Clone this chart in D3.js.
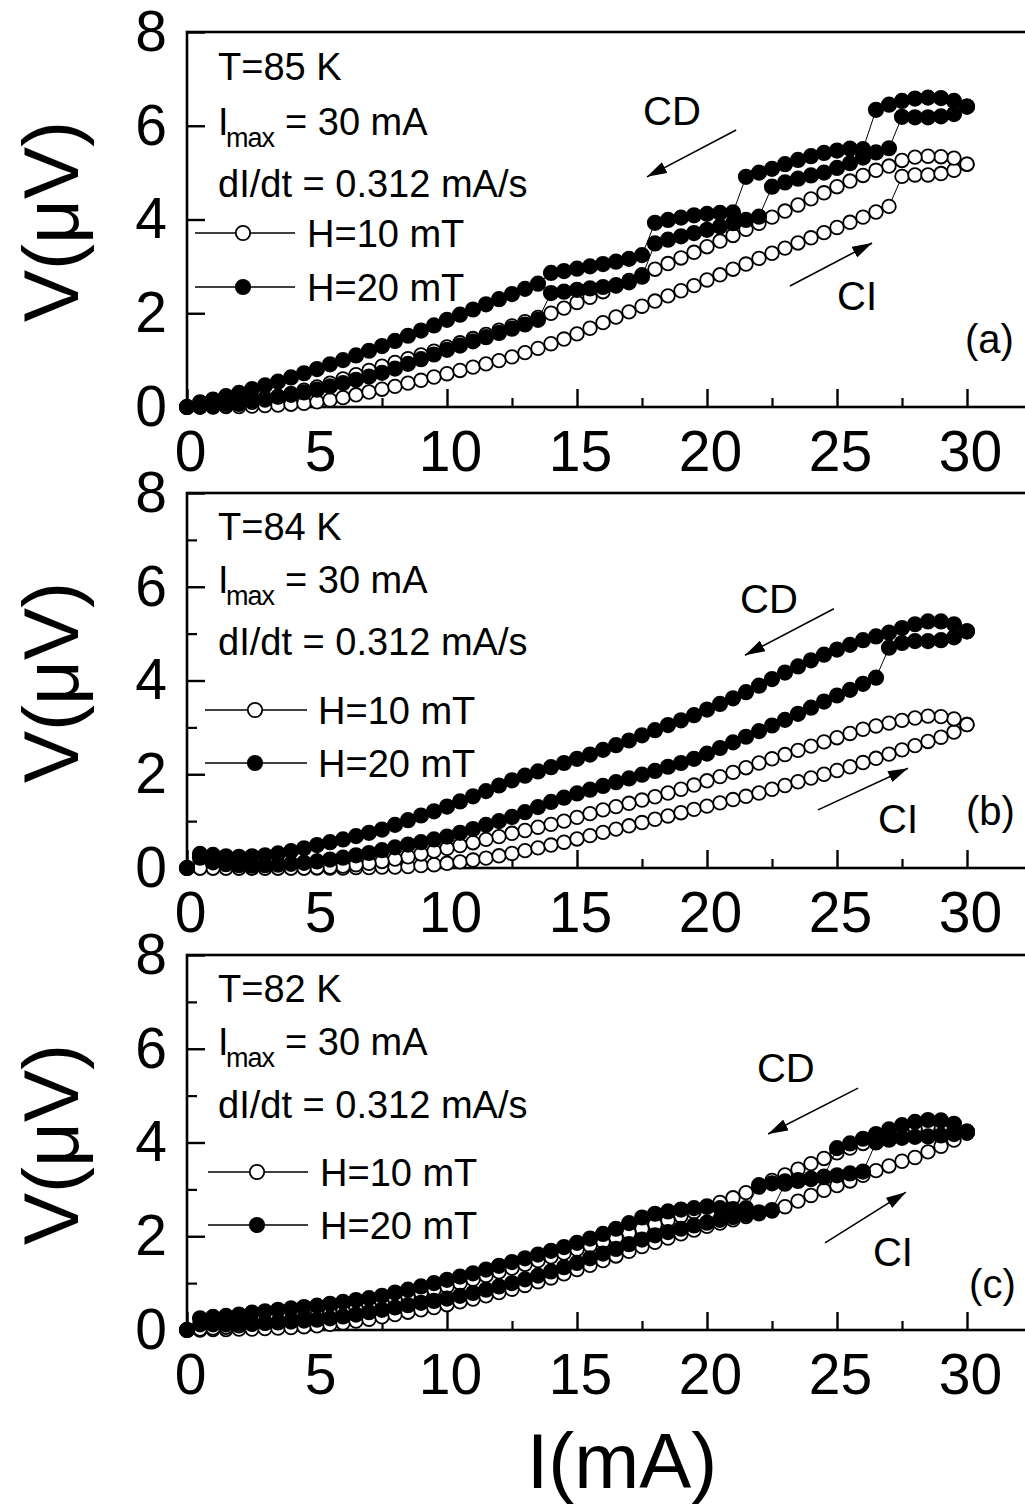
<!DOCTYPE html>
<html lang="en">
<head>
<meta charset="UTF-8">
<title>V-I hysteresis loops</title>
<script src="https://d3js.org/d3.v7.min.js"></script>
<style>
  body { margin: 0; background: #fff; }
  svg text { font-family: "Liberation Sans", Arial, sans-serif; fill: #000; }
</style>
</head>
<body>
<script>
// current sweep (mA), shared by every branch
const current = [0,0.5,1,1.5,2,2.5,3,3.5,4,4.5,5,5.5,6,6.5,7,7.5,8,8.5,9,9.5,
  10,10.5,11,11.5,12,12.5,13,13.5,14,14.5,15,15.5,16,16.5,17,17.5,18,18.5,19,19.5,
  20,20.5,21,21.5,22,22.5,23,23.5,24,24.5,25,25.5,26,26.5,27,27.5,28,28.5,29,29.5,30];

// voltages (uV); "Up" = current increasing (CI), "Down" = current decreasing (CD)
// T = 85 K
const a10Up = [0,0,0,0.01,0.01,0.02,0.03,0.04,0.06,0.08,
  0.11,0.15,0.2,0.26,0.32,0.38,0.44,0.51,0.57,0.64,
  0.71,0.78,0.85,0.92,0.99,1.07,1.16,1.25,1.35,1.45,
  1.56,1.68,1.8,1.92,2.03,2.15,2.26,2.37,2.48,2.59,
  2.71,2.82,2.94,3.05,3.17,3.28,3.39,3.5,3.61,3.72,
  3.83,3.94,4.05,4.16,4.28,4.92,4.95,4.95,4.98,5.05,5.18];
const a10Down = [0,0,0.01,0.03,0.06,0.1,0.15,0.22,0.29,0.36,
  0.43,0.51,0.6,0.69,0.78,0.87,0.95,1.03,1.11,1.19,
  1.28,1.37,1.46,1.55,1.64,1.73,1.82,1.91,2.0,2.11,
  2.23,2.34,2.46,2.58,2.7,2.82,2.94,3.06,3.18,3.3,
  3.42,3.54,3.66,3.79,3.92,4.05,4.18,4.31,4.44,4.57,
  4.7,4.82,4.94,5.05,5.14,5.26,5.33,5.35,5.34,5.31,5.18];
const a20Up = [0,0.02,0.04,0.07,0.1,0.14,0.18,0.22,0.26,0.31,
  0.37,0.44,0.51,0.58,0.65,0.73,0.82,0.92,1.02,1.12,
  1.22,1.31,1.4,1.49,1.58,1.67,1.76,1.86,2.43,2.46,
  2.5,2.53,2.56,2.6,2.66,2.78,3.49,3.57,3.64,3.71,
  3.78,3.85,3.92,3.99,4.06,4.7,4.79,4.87,4.94,5.0,
  5.1,5.2,5.32,5.43,5.52,6.19,6.18,6.18,6.2,6.25,6.41];
const a20Down = [0,0.1,0.16,0.23,0.3,0.38,0.46,0.54,0.63,0.72,
  0.81,0.91,1.0,1.1,1.2,1.3,1.41,1.52,1.63,1.74,
  1.86,1.97,2.08,2.19,2.3,2.41,2.52,2.63,2.86,2.9,
  2.95,3.0,3.05,3.1,3.16,3.24,3.93,3.99,4.04,4.09,
  4.12,4.14,4.15,4.91,5.0,5.08,5.18,5.27,5.35,5.42,
  5.47,5.51,5.5,6.34,6.45,6.53,6.58,6.6,6.59,6.53,6.41];

// T = 84 K
const b10Up = [0,0,0,0,0,0,0,0,0,0,
  0,0,0,0.01,0.01,0.02,0.02,0.03,0.05,0.07,
  0.1,0.13,0.17,0.21,0.26,0.31,0.37,0.43,0.49,0.55,
  0.62,0.69,0.76,0.83,0.9,0.97,1.04,1.11,1.18,1.25,
  1.32,1.39,1.46,1.53,1.6,1.68,1.76,1.84,1.92,2.0,
  2.08,2.16,2.25,2.34,2.43,2.52,2.61,2.7,2.79,2.9,3.06];
const b10Down = [0,0,0,0,0,0,0,0,0,0,
  0.01,0.02,0.04,0.07,0.1,0.14,0.19,0.24,0.3,0.36,
  0.42,0.48,0.54,0.61,0.67,0.74,0.8,0.87,0.93,1.0,
  1.08,1.16,1.24,1.31,1.38,1.45,1.52,1.6,1.68,1.77,
  1.86,1.95,2.04,2.14,2.24,2.33,2.42,2.51,2.6,2.69,
  2.78,2.87,2.96,3.03,3.09,3.15,3.2,3.24,3.23,3.18,3.06];
const b20Up = [0,0.22,0.12,0.08,0.06,0.05,0.06,0.07,0.09,0.11,
  0.14,0.18,0.22,0.27,0.32,0.38,0.44,0.5,0.55,0.61,
  0.67,0.75,0.83,0.92,1.0,1.09,1.19,1.3,1.41,1.5,
  1.59,1.67,1.75,1.83,1.91,1.99,2.07,2.16,2.24,2.33,
  2.44,2.56,2.68,2.8,2.92,3.04,3.16,3.29,3.42,3.55,
  3.68,3.8,3.93,4.06,4.7,4.8,4.84,4.84,4.86,4.92,5.05];
const b20Down = [0,0.3,0.28,0.25,0.24,0.25,0.27,0.31,0.36,0.42,
  0.49,0.55,0.61,0.68,0.75,0.82,0.92,1.02,1.12,1.21,
  1.31,1.42,1.53,1.64,1.76,1.87,1.97,2.06,2.15,2.24,
  2.33,2.42,2.52,2.62,2.72,2.83,2.94,3.05,3.15,3.26,
  3.38,3.5,3.62,3.75,3.89,4.03,4.17,4.3,4.43,4.55,
  4.66,4.76,4.86,4.94,5.02,5.12,5.2,5.26,5.26,5.2,5.05];

// T = 82 K
const c10Up = [0,0,0.01,0.01,0.02,0.02,0.03,0.04,0.05,0.07,
  0.09,0.12,0.15,0.19,0.23,0.28,0.33,0.38,0.43,0.48,
  0.54,0.6,0.66,0.73,0.8,0.87,0.95,1.03,1.11,1.2,
  1.29,1.38,1.48,1.58,1.68,1.78,1.87,1.96,2.05,2.13,
  2.21,2.28,2.35,2.42,2.48,2.54,2.63,2.75,2.87,2.98,
  3.08,3.18,3.3,3.4,3.5,3.6,3.68,3.8,3.92,4.05,4.2];
const c10Down = [0,0.02,0.04,0.06,0.09,0.12,0.15,0.18,0.22,0.26,
  0.3,0.35,0.4,0.46,0.52,0.58,0.65,0.72,0.79,0.86,
  0.93,1.0,1.08,1.16,1.24,1.32,1.4,1.48,1.56,1.64,
  1.72,1.8,1.88,1.97,2.07,2.16,2.25,2.34,2.43,2.52,
  2.62,2.72,2.82,2.93,3.05,3.19,3.31,3.43,3.55,3.66,
  3.78,3.88,3.98,4.07,4.16,4.24,4.3,4.33,4.33,4.3,4.2];
const c20Up = [0,0.12,0.12,0.12,0.13,0.14,0.15,0.16,0.18,0.2,
  0.22,0.25,0.29,0.33,0.38,0.43,0.48,0.53,0.58,0.62,
  0.67,0.73,0.79,0.86,0.93,1.0,1.08,1.16,1.25,1.34,
  1.43,1.53,1.63,1.73,1.83,1.93,2.02,2.09,2.16,2.23,
  2.29,2.35,2.41,2.46,2.51,2.56,3.12,3.18,3.22,3.26,
  3.3,3.34,3.38,4.0,4.06,4.1,4.12,4.13,4.15,4.18,4.23];
const c20Down = [0,0.25,0.28,0.3,0.33,0.37,0.4,0.43,0.46,0.49,
  0.52,0.56,0.6,0.64,0.68,0.73,0.8,0.86,0.93,1.0,
  1.07,1.14,1.21,1.29,1.37,1.45,1.53,1.61,1.69,1.77,
  1.86,1.95,2.05,2.16,2.28,2.4,2.48,2.53,2.57,2.6,
  2.64,2.6,2.58,2.6,3.09,3.13,3.17,3.2,3.23,3.27,
  3.88,3.98,4.08,4.18,4.28,4.37,4.44,4.48,4.47,4.4,4.23];

const temperatures = ["T=85 K", "T=84 K", "T=82 K"];
const panelTags = ["(a)", "(b)", "(c)"];
const fieldLabels = ["H=10 mT", "H=20 mT"];
const xMajor = [0, 5, 10, 15, 20, 25, 30];
const xMinor = [2.5, 7.5, 12.5, 17.5, 22.5, 27.5];
const yMajor = [0, 2, 4, 6, 8];
const yMinor = [1, 3, 5, 7];

const width = 1025, height = 1510;
const left = 187, right = 967, frameRight = 1060, plotH = 375;
const panelTops = [32, 493, 955];
const font = "'Liberation Sans', Arial, sans-serif";

const svg = d3.select("body").append("svg")
    .attr("width", width)
    .attr("height", height);

svg.append("defs").append("marker")
    .attr("id", "head")
    .attr("viewBox", "0 0 20 12")
    .attr("refX", 20).attr("refY", 6)
    .attr("markerWidth", 20).attr("markerHeight", 12)
    .attr("markerUnits", "userSpaceOnUse")
    .attr("orient", "auto")
  .append("path")
    .attr("d", "M0,0 L20,6 L0,12 Z")
    .attr("fill", "#000");

const x = d3.scaleLinear().domain([0, 30]).range([left, right]);

const panels = [
  { up10: a10Up, down10: a10Down, up20: a20Up, down20: a20Down },
  { up10: b10Up, down10: b10Down, up20: b20Up, down20: b20Down },
  { up10: c10Up, down10: c10Down, up20: c20Up, down20: c20Down }
];

// annotation anchors in data units (mA, uV)
const cdText = [[17.54, 6.02], [21.27, 5.44], [21.92, 5.29]];
const cdArrow = [[[21.12, 5.91], [17.69, 4.91]], [[24.88, 5.53], [21.46, 4.54]], [[25.81, 5.16], [22.35, 4.18]]];
const ciText = [[25.0, 2.07], [26.58, 0.75], [26.38, 1.37]];
const ciArrow = [[[23.19, 2.58], [26.35, 3.5]], [[24.27, 1.24], [27.73, 2.13]], [[24.54, 1.86], [27.65, 2.94]]];
const tagPos = [[29.92, 1.15], [29.96, 0.92], [30.08, 0.68]];

// legend layout, offsets from the panel top
const legendLine = [[195, 295, 243, 307], [205, 307, 255, 318], [208, 308, 257, 320]];
const legendRows = [[48, 103, 165, 201, 255], [47, 100, 162, 217, 270], [47, 100, 163, 217, 270]];

function branchPoints(up, down) {
  const rise = up.map((v, i) => [current[i], v]);
  const fall = down.map((v, i) => [current[i], v]).reverse();
  return rise.concat(fall);
}

function drawSeries(g, y, pts, filled) {
  g.append("path")
    .datum(pts)
    .attr("d", d3.line().x(d => x(d[0])).y(d => y(d[1])))
    .attr("fill", "none")
    .attr("stroke", "#000")
    .attr("stroke-width", 1);
  g.append("g").selectAll("circle")
    .data(pts)
    .join("circle")
    .attr("cx", d => x(d[0]))
    .attr("cy", d => y(d[1]))
    .attr("r", filled ? 7.2 : 6.8)
    .attr("fill", filled ? "#000" : "#fff")
    .attr("stroke", "#000")
    .attr("stroke-width", 1.8);
}

panels.forEach((p, i) => {
  const top = panelTops[i];
  const bottom = top + plotH;
  const y = d3.scaleLinear().domain([0, 8]).range([bottom, top]);
  const g = svg.append("g");

  // frame (right side runs past the page edge)
  g.append("rect")
    .attr("x", left).attr("y", top)
    .attr("width", frameRight - left).attr("height", plotH)
    .attr("fill", "none")
    .attr("stroke", "#000")
    .attr("stroke-width", 2.6);

  const xAxis = g.append("g")
    .attr("transform", `translate(0,${bottom})`)
    .call(d3.axisBottom(x).tickValues(xMajor).tickSizeInner(-18).tickSizeOuter(0).tickPadding(24).tickFormat(d3.format("d")));
  xAxis.select(".domain").remove();
  xAxis.selectAll("line").attr("stroke-width", 2.4);
  xAxis.selectAll("text").attr("font-size", 57).attr("font-family", font).attr("dx", 3);

  const xMinorAxis = g.append("g")
    .attr("transform", `translate(0,${bottom})`)
    .call(d3.axisBottom(x).tickValues(xMinor).tickSizeInner(-9).tickSizeOuter(0).tickFormat(""));
  xMinorAxis.select(".domain").remove();
  xMinorAxis.selectAll("line").attr("stroke-width", 2.2);

  const yAxis = g.append("g")
    .attr("transform", `translate(${left},0)`)
    .call(d3.axisLeft(y).tickValues(yMajor).tickSizeInner(-18).tickSizeOuter(0).tickPadding(20).tickFormat(d3.format("d")));
  yAxis.select(".domain").remove();
  yAxis.selectAll("line").attr("stroke-width", 2.4);
  yAxis.selectAll("text").attr("font-size", 57).attr("font-family", font);

  if (i > 0) {
    const yMinorAxis = g.append("g")
      .attr("transform", `translate(${left},0)`)
      .call(d3.axisLeft(y).tickValues(yMinor).tickSizeInner(-10).tickSizeOuter(0).tickFormat(""));
    yMinorAxis.select(".domain").remove();
    yMinorAxis.selectAll("line").attr("stroke-width", 2.2);
  }

  // y title
  g.append("text")
    .attr("transform", `translate(78,${(top + bottom) / 2 + 2}) rotate(-90)`)
    .attr("text-anchor", "middle")
    .attr("font-size", 78)
    .text("V(μV)");

  // data: open circles underneath, filled on top
  drawSeries(g, y, branchPoints(p.up10, p.down10), false);
  drawSeries(g, y, branchPoints(p.up20, p.down20), true);

  // legend block
  const rows = legendRows[i];
  const lx = 218;
  g.append("text").attr("x", lx).attr("y", top + rows[0]).attr("font-size", 38).text(temperatures[i]);
  const imax = g.append("text").attr("x", lx).attr("y", top + rows[1]).attr("font-size", 38);
  imax.append("tspan").text("I");
  imax.append("tspan").attr("x", lx + 8).attr("dy", 12).attr("font-size", 27).attr("letter-spacing", -1).text("max");
  imax.append("tspan").attr("x", lx + 67).attr("dy", -12).text("= 30 mA");
  g.append("text").attr("x", lx).attr("y", top + rows[2]).attr("font-size", 38).text("dI/dt = 0.312 mA/s");

  const [l0, l1, mx, tx] = legendLine[i];
  [false, true].forEach((filled, k) => {
    const ly = top + rows[3 + k];
    g.append("line")
      .attr("x1", l0).attr("x2", l1).attr("y1", ly).attr("y2", ly)
      .attr("stroke", "#000").attr("stroke-width", 1.3);
    g.append("circle")
      .attr("cx", mx).attr("cy", ly).attr("r", 7.2)
      .attr("fill", filled ? "#000" : "#fff")
      .attr("stroke", "#000").attr("stroke-width", 1.8);
    g.append("text")
      .attr("x", tx).attr("y", ly + 14)
      .attr("font-size", 38)
      .text(fieldLabels[k]);
  });

  // sweep direction annotations
  g.append("text").attr("x", x(cdText[i][0])).attr("y", y(cdText[i][1])).attr("font-size", 40).text("CD");
  g.append("text").attr("x", x(ciText[i][0])).attr("y", y(ciText[i][1])).attr("font-size", 40).text("CI");
  [cdArrow[i], ciArrow[i]].forEach(a => {
    g.append("line")
      .attr("x1", x(a[0][0])).attr("y1", y(a[0][1]))
      .attr("x2", x(a[1][0])).attr("y2", y(a[1][1]))
      .attr("stroke", "#000").attr("stroke-width", 1.6)
      .attr("marker-end", "url(#head)");
  });
  g.append("text").attr("x", x(tagPos[i][0])).attr("y", y(tagPos[i][1])).attr("font-size", 40).text(panelTags[i]);
});

// shared x title
svg.append("text")
  .attr("x", 622)
  .attr("y", 1488)
  .attr("text-anchor", "middle")
  .attr("font-size", 78)
  .text("I(mA)");
</script>
</body>
</html>
